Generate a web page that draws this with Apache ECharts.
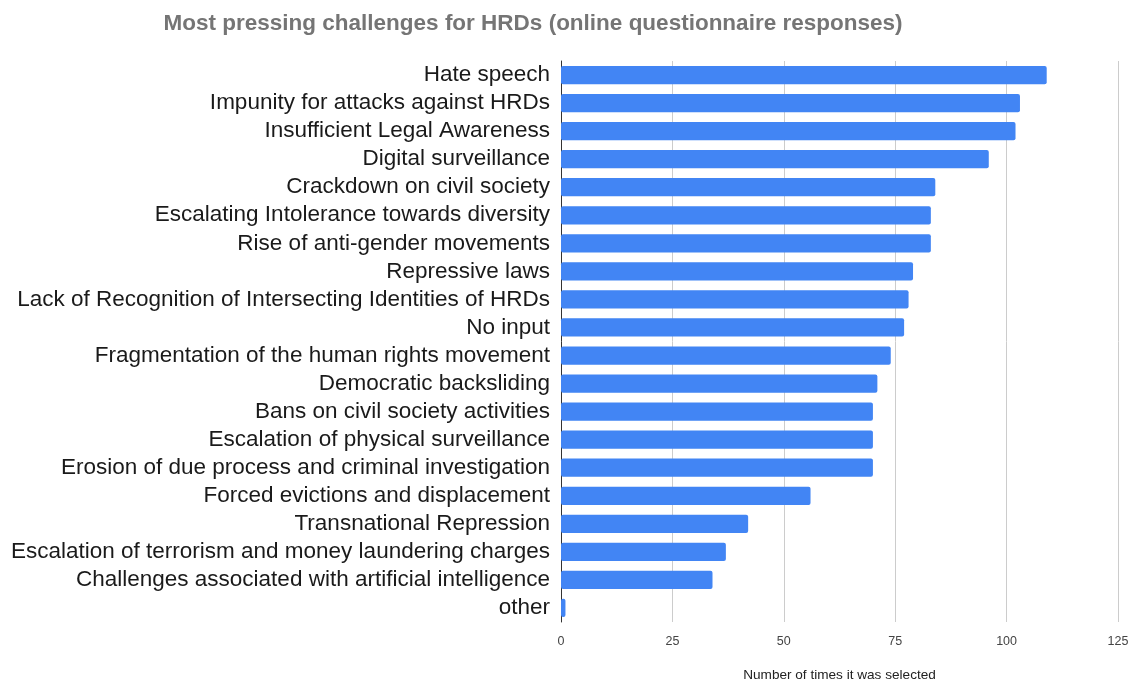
<!DOCTYPE html>
<html><head><meta charset="utf-8">
<script src="https://cdn.jsdelivr.net/npm/echarts@6/dist/echarts.min.js"></script>
<style>html,body{margin:0;padding:0;background:#fff}#c{width:1134px;height:683px}</style>
</head><body><div id="c"></div>
<script>
const categories = ["Hate speech","Impunity for attacks against HRDs","Insufficient Legal Awareness","Digital surveillance","Crackdown on civil society","Escalating Intolerance towards diversity","Rise of anti-gender movements","Repressive laws","Lack of Recognition of Intersecting Identities of HRDs","No input","Fragmentation of the human rights movement","Democratic backsliding","Bans on civil society activities","Escalation of physical surveillance","Erosion of due process and criminal investigation","Forced evictions and displacement","Transnational Repression","Escalation of terrorism and money laundering charges","Challenges associated with artificial intelligence","other"];
const values = [109,103,102,96,84,83,83,79,78,77,74,71,70,70,70,56,42,37,34,1];
const xTicks = [0,25,50,75,100,125];
const chart = echarts.init(document.getElementById('c'));
chart.setOption({
  animation:false,
  title:{text:"Most pressing challenges for HRDs (online questionnaire responses)",left:528,top:7,textAlign:'center',
    textStyle:{fontFamily:'Liberation Sans',fontSize:22.5,fontWeight:'bold',color:'#757575'}},
  grid:{left:561,right:16,top:61,bottom:61,containLabel:false,outerBoundsMode:'none'},
  xAxis:{type:'value',min:xTicks[0],max:xTicks[xTicks.length-1],interval:25,
    name:"Number of times it was selected",nameLocation:'middle',nameGap:46,
    nameTextStyle:{fontFamily:'Liberation Sans',fontSize:13.6,color:'#222'},
    axisLine:{show:false},axisTick:{show:false},
    axisLabel:{fontFamily:'Liberation Sans',fontSize:12.5,color:'#444',margin:13},
    splitLine:{lineStyle:{color:'#cccccc',width:1}}},
  yAxis:{type:'category',data:categories,inverse:true,
    axisLine:{show:true,lineStyle:{color:'#333',width:1}},axisTick:{show:false},
    axisLabel:{interval:0,fontFamily:'Liberation Sans',fontSize:22.5,color:'#1a1a1a',margin:11,padding:[5,0,0,0]}},
  series:[{type:'bar',data:values,barCategoryGap:'35%',
    itemStyle:{color:'#4285f4',borderRadius:2}}]
});
</script></body></html>
